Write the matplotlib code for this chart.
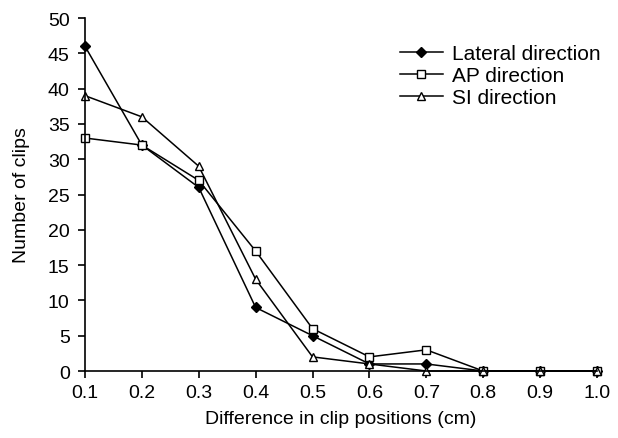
import numpy as np
import matplotlib
matplotlib.use('Agg')
import matplotlib.pyplot as plt

plt.rcParams['font.family'] = ['Liberation Sans', 'DejaVu Sans']

# difference in clip positions (cm)
x = [0.1, 0.2, 0.3, 0.4, 0.5, 0.6, 0.7, 0.8, 0.9, 1.0]
lateral = [46, 32, 26, 9, 5, 1, 1, 0, 0, 0]
ap = [33, 32, 27, 17, 6, 2, 3, 0, 0, 0]
si = [39, 36, 29, 13, 2, 1, 0, 0, 0, 0]

fig = plt.figure(figsize=(6.18, 4.39), dpi=100)
ax = fig.add_axes([0.1375, 0.1526, 0.8285, 0.8041])

ax.plot(x, lateral, color='black', lw=1.1, marker='D', ms=5,
        mfc='black', mec='black', label='Lateral direction')
ax.plot(x, ap, color='black', lw=1.1, marker='s', ms=5.5,
        mfc='white', mec='black', label='AP direction')
ax.plot(x, si, color='black', lw=1.1, marker='^', ms=6,
        mfc='white', mec='black', label='SI direction')

ax.set_xlim(0.1, 1.0)
ax.set_ylim(0, 50)
ax.set_xticks(x)
ax.set_xticklabels(['%.1f' % v for v in x])
ax.set_yticks(np.arange(0, 51, 5))

for s in ['top', 'right']:
    ax.spines[s].set_visible(False)
for s in ['left', 'bottom']:
    ax.spines[s].set_linewidth(1.2)
    ax.spines[s].set_clip_on(False)

ax.tick_params(axis='x', direction='out', length=5, width=1.2, labelsize=14, pad=4.5)
ax.tick_params(axis='y', direction='out', length=5, width=1.2, labelsize=14, pad=6)
for ln in ax.lines:
    ln.set_clip_on(False)

ax.set_xlabel('Difference in clip positions (cm)', fontsize=14, labelpad=6)
ax.set_ylabel('Number of clips', fontsize=14, labelpad=13)

ax.legend(loc='upper left', bbox_to_anchor=(400 / 618, 1 - 45 / 439),
          bbox_transform=fig.transFigure, frameon=False, borderpad=0,
          borderaxespad=0, fontsize=15, handlelength=2.05,
          labelspacing=0.15, handletextpad=0.45)

fig.savefig('out.png', dpi=100)
